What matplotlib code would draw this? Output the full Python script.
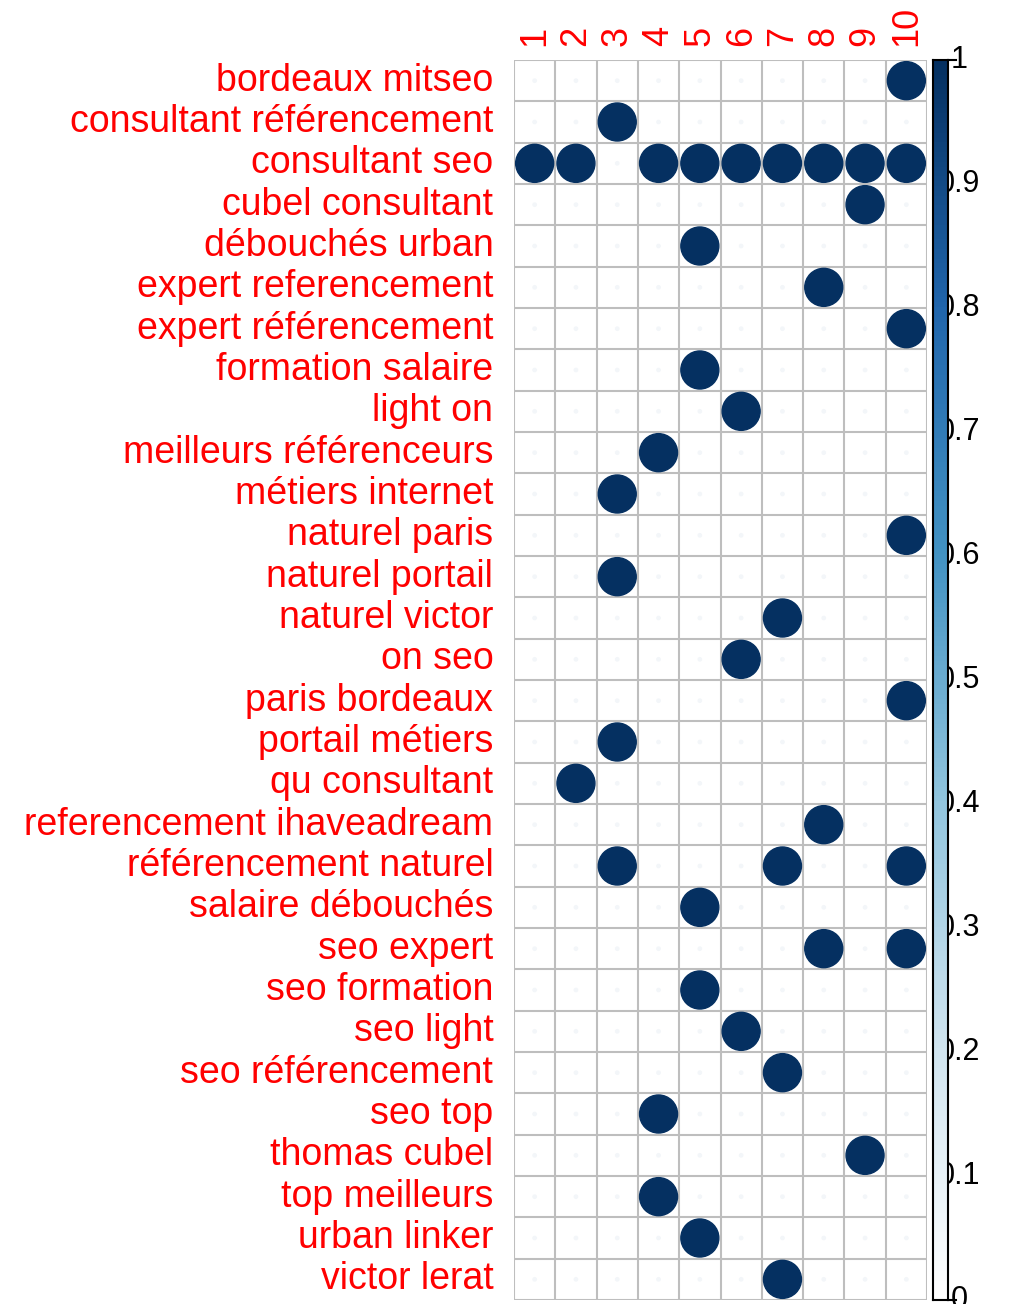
import numpy as np
import matplotlib
matplotlib.use("Agg")
import matplotlib.pyplot as plt
from matplotlib.colors import LinearSegmentedColormap
from matplotlib.patches import Circle

plt.rcParams['font.family'] = ['Liberation Sans', 'DejaVu Sans']

terms = ['bordeaux mitseo', 'consultant référencement', 'consultant seo',
         'cubel consultant', 'débouchés urban', 'expert referencement',
         'expert référencement', 'formation salaire', 'light on',
         'meilleurs référenceurs', 'métiers internet', 'naturel paris',
         'naturel portail', 'naturel victor', 'on seo', 'paris bordeaux',
         'portail métiers', 'qu consultant', 'referencement ihaveadream',
         'référencement naturel', 'salaire débouchés', 'seo expert',
         'seo formation', 'seo light', 'seo référencement', 'seo top',
         'thomas cubel', 'top meilleurs', 'urban linker', 'victor lerat']
topics = ['1', '2', '3', '4', '5', '6', '7', '8', '9', '10']

# topics (columns) where each term has value 1
topic_hits = [[10], [3], [1, 2, 4, 5, 6, 7, 8, 9, 10], [9], [5], [8], [10],
              [5], [6], [4], [3], [10], [3], [7], [6], [10], [3], [2], [8],
              [3, 7, 10], [5], [8, 10], [5], [6], [7], [4], [9], [4], [5], [7]]

cbar_ticks = [0, 0.1, 0.2, 0.3, 0.4, 0.5, 0.6, 0.7, 0.8, 0.9, 1]

values = np.zeros((len(terms), len(topics)))
for i, hits in enumerate(topic_hits):
    for j in hits:
        values[i, j - 1] = 1.0

cmap = LinearSegmentedColormap.from_list(
    'blues', ['#FFFFFF', '#D1E5F0', '#92C5DE', '#4393C3', '#2166AC', '#053061'])

W, H = 1030, 1304
fig = plt.figure(figsize=(W / 100, H / 100), dpi=100)
ax = fig.add_axes([514 / W, 4 / H, 413 / W, 1240 / H])

nr, nc = values.shape
for k in range(nr + 1):
    ax.plot([0.5, nc + 0.5], [k + 0.5, k + 0.5], color='#BEBEBE', lw=1.5, zorder=1)
for k in range(nc + 1):
    ax.plot([k + 0.5, k + 0.5], [0.5, nr + 0.5], color='#BEBEBE', lw=1.5, zorder=1)

for i in range(nr):
    for j in range(nc):
        v = values[i, j]
        if v > 0:
            ax.add_patch(Circle((j + 1, i + 1), 0.46 * v, color=cmap(v), zorder=3))
        else:
            ax.add_patch(Circle((j + 1, i + 1), 0.04, color='#F3F6F9', zorder=2))

ax.set_xlim(0.5, nc + 0.5)
ax.set_ylim(nr + 0.5, 0.5)
ax.set_axis_off()

for i, t in enumerate(terms):
    ax.text(0.0, i + 1, t, ha='right', va='center', color='#FF0000',
            fontsize=27)
for j, t in enumerate(topics):
    ax.text(j + 1, 0.15, t, ha='center', va='bottom', rotation=90,
            color='#FF0000', fontsize=26)

# colour legend
cax = fig.add_axes([933 / W, 4 / H, 15 / W, 1240 / H])
grad = np.linspace(0, 1, 256).reshape(-1, 1)
cax.imshow(grad, cmap=cmap, aspect='auto', origin='lower',
           extent=[0, 1, 0, 1], vmin=0, vmax=1, zorder=1)
cax.set_xlim(0, 1)
cax.set_ylim(0, 1)
cax.set_xticks([])
cax.set_yticks([])
for s in cax.spines.values():
    s.set_linewidth(1.5)
    s.set_color('black')
for y in [0, 1]:
    cax.plot([1, 1.5], [y, y], color='black', lw=1.5, clip_on=False)
for t in cbar_ticks:
    cax.text(1.75, t, '%g' % t, ha='center', va='center', fontsize=22,
             zorder=0, clip_on=False)

fig.savefig('out.png', dpi=100)
